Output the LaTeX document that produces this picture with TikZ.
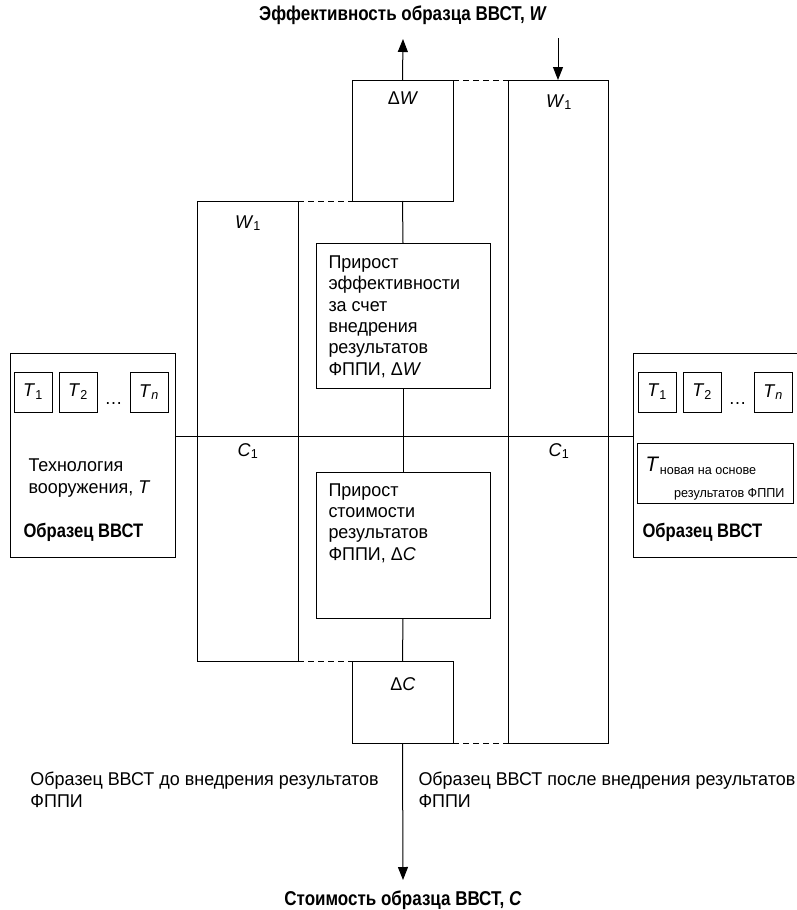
\documentclass[tikz,border=0pt]{standalone}
\usepackage{fontspec}
\setmainfont{Liberation Sans}[FakeStretch=0.97]
\newfontfamily\headfont{Liberation Sans}[FakeStretch=0.85]
\newcommand\diagfont{\fontsize{18.5}{21.3}\selectfont}
\usetikzlibrary{positioning, arrows.meta, calc}

\begin{document}
\begin{tikzpicture}[
        x=1pt, y=-1pt,
        line width=1pt,
        font=\diagfont,
        node distance=7pt,
        box/.style={draw, rectangle, anchor=north west, inner sep=0pt, outer sep=0pt},
        tbox/.style={draw, rectangle, minimum width=38pt, minimum height=40pt, inner sep=0pt, outer sep=0pt},
        note/.style={anchor=base west, align=left, inner sep=0pt, font=\diagfont},
        mark_label/.style={anchor=base, inner sep=0pt},
        head/.style={anchor=base, inner sep=0pt, font=\headfont\bfseries\fontsize{20}{24}\selectfont},
        sample_name/.style={anchor=base west, inner sep=0pt, font=\headfont\bfseries\fontsize{19.5}{22}\selectfont},
        arrow/.style={-{Triangle[length=13pt, width=10pt]}},
        dashed_link/.style={dash pattern=on 6pt off 4pt}
    ]
    \useasboundingbox (0,0) rectangle (797,910);

    % Axes and their captions
    \node[head] (effLabel) at (403,20) {Эффективность образца ВВСТ, \textit{W}};
    \node[head] (costLabel) at (403,905) {Стоимость образца ВВСТ, \textit{C}};
    \coordinate (effTop) at (403,39);
    \coordinate (w1In) at (558,38);
    \coordinate (costEnd) at (403,880);
    \coordinate (axisL) at (175,436);
    \coordinate (axisR) at (633,436);

    % Sample before (multi-line notes sit on their last baseline)
    \node[box, minimum width=165pt, minimum height=204pt] (sampleL) at (10,353) {};
    \node[tbox, anchor=north west] (T1L) at (14,372) {\textit{T}\textsubscript{1}};
    \node[tbox, right=of T1L] (T2L) {\textit{T}\textsubscript{2}};
    \node[tbox, right=33pt of T2L] (TnL) {\textit{T}\textsubscript{\textit{n}}};
    \node[mark_label] (dotsL) at ($(T2L.south east)!0.5!(TnL.south west)+(0,-8)$) {\dots};
    \node[note] (techL) at (28,493) {Технология\\вооружения, \textit{T}};
    \node[sample_name] (nameL) at (23,537) {Образец ВВСТ};

    % Sample after
    \node[box, minimum width=165pt, minimum height=204pt] (sampleR) at (633,353) {};
    \node[tbox, anchor=north west] (T1R) at (638,372) {\textit{T}\textsubscript{1}};
    \node[tbox, right=of T1R] (T2R) {\textit{T}\textsubscript{2}};
    \node[tbox, right=33pt of T2R] (TnR) {\textit{T}\textsubscript{\textit{n}}};
    \node[mark_label] (dotsR) at ($(T2R.south east)!0.5!(TnR.south west)+(0,-8)$) {\dots};
    \node[box, minimum width=156pt, minimum height=60pt] (Tnew) at (637,443) {};
    \node[note, font=\fontsize{21}{21}\selectfont\itshape] (TnewSym) at (645,471) {T};
    \node[note, font=\fontsize{13}{15}\selectfont, xshift=1pt, yshift=-3pt] (TnewSub) at (TnewSym.base east) {новая на основе};
    \node[anchor=base east, inner sep=0pt, font=\fontsize{13}{15}\selectfont] (TnewSub2) at (785,497) {результатов ФППИ};
    \node[sample_name] (nameR) at (642,537) {Образец ВВСТ};

    % Columns
    \node[box, minimum width=101pt, minimum height=460pt] (tallL) at (197,201) {};
    \node[box, minimum width=100pt, minimum height=663pt] (tallR) at (508,80) {};
    \node[box, minimum width=101pt, minimum height=121pt] (dW) at (352,80) {};
    \node[box, minimum width=174pt, minimum height=145pt] (gainW) at (316,243) {};
    \node[box, minimum width=174pt, minimum height=146pt] (gainC) at (316,472) {};
    \node[box, minimum width=101pt, minimum height=82pt] (dC) at (352,661) {};

    \node[mark_label] (W1L) at (248,228) {\textit{W}\textsubscript{1}};
    \node[mark_label] (C1L) at (248,456) {\textit{C}\textsubscript{1}};
    \node[mark_label] (W1R) at (559,107) {\textit{W}\textsubscript{1}};
    \node[mark_label] (C1R) at (559,456) {\textit{C}\textsubscript{1}};
    \node[mark_label] (dWL) at (403,104) {Δ\textit{W}};
    \node[mark_label] (dCL) at (403,690) {Δ\textit{C}};

    \node[note] (gainWText) at (328,375) {Прирост\\эффективности\\за счет\\внедрения\\результатов\\ФППИ, Δ\textit{W}};
    \node[note] (gainCText) at (328,560) {Прирост\\стоимости\\результатов\\ФППИ, Δ\textit{C}};

    \node[note] (beforeNote) at (30,807) {Образец ВВСТ до внедрения результатов\\ФППИ};
    \node[note] (afterNote) at (418,807) {Образец ВВСТ после внедрения результатов\\ФППИ};

    % Connectors
    \draw[arrow] (dW.north) -- (effTop);
    \draw[arrow] (w1In) -- (tallR.north);
    \draw[arrow] (dC.south) -- (costEnd);
    \draw (dW.south) -- (gainW.north);
    \draw (gainW.south) -- (gainC.north);
    \draw (gainC.south) -- (dC.north);
    \draw (axisL) -- (axisR);
    \draw[dashed_link] (tallL.north east) -- (dW.south west);
    \draw[dashed_link] (dW.north east) -- (tallR.north west);
    \draw[dashed_link] (tallL.south east) -- (dC.north west);
    \draw[dashed_link] (dC.south east) -- (tallR.south west);

\end{tikzpicture}
\end{document}
